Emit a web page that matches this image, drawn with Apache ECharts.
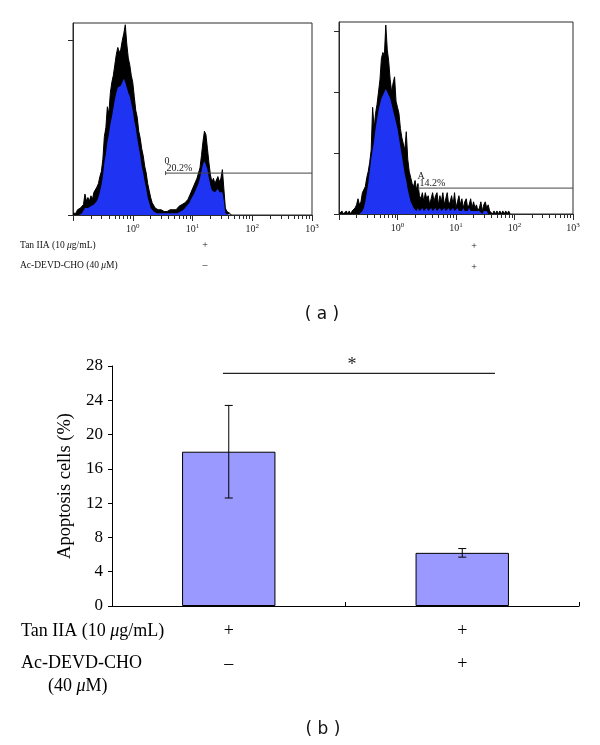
<!DOCTYPE html>
<html><head><meta charset="utf-8">
<script src="https://cdn.jsdelivr.net/npm/echarts@6/dist/echarts.min.js"></script>
<style>html,body{margin:0;padding:0;background:#fff}#c{width:600px;height:745px}</style>
</head><body><div id="c"></div>
<script>
// ---------- Panel (a): flow-cytometry histograms (x in log10 decades, 0.025-decade bins) ----------
const binStart = -1.0;
const binStep = 0.025;
const leftBlack = [1,2,1,3,2,4,3,6,12,8,
 10,8,11,9,13,12,16,18,22,25,
 32,45,50,62,58,70,76,80,86,92,
 96,93,95,100,104,109,98,90,86,80,
 76,68,60,56,48,44,38,34,28,24,
 18,14,10,7,6,4,4,3,4,3,
 3,2,3,2,2,3,2,3,4,3,
 4,5,4,6,5,7,8,9,11,13,
 14,17,19,21,24,27,34,42,48,46,
 38,30,23,19,21,18,20,22,19,21,
 26,15,4,2,1,1,0];
const leftBlue = [0,0,0,1,0,1,1,
 2,4,3,4,3,5,4,6,6,8,
 10,13,17,22,30,35,42,46,52,56,
 61,66,70,73,72,74,76,78,76,73,
 70,68,64,60,54,50,44,39,34,28,
 24,19,15,10,7,4,3,2,1,1,
 1,1,1,1,1,1,1,1,1,1,
 1,1,1,1,2,2,3,3,4,5,
 6,7,9,10,12,14,16,18,21,25,
 29,31,30,26,21,17,14,15,13,14,
 15,13,14,13,8,1,0,0,0,0];
const rightBlack = [0,0,1,0,0,1,0,1,0,1,
 1,2,3,5,3,4,7,8,9,12,
 14,17,21,35,28,33,36,40,44,51,
 53,52,62,54,50,44,40,43,45,37,
 35,33,28,25,23,21,27,18,14,12,
 10,9,11,8,10,6,5,7,4,7,
 5,6,3,5,7,4,6,7,3,6,
 4,7,3,5,7,3,4,6,3,7,
 2,4,6,3,5,2,4,5,2,3,
 5,2,4,2,3,1,2,4,1,3,
 4,2,3,1,1,0,1,0,1,0,
 1,0,1,0,1,0,1,0];
const rightBlue = [0,0,0,0,0,0,0,0,0,0,0,0,0,0,0,0,
 1,2,4,7,10,14,18,21,24,28,
 31,34,36,38,39,40,41,40,39,38,
 36,34,32,30,28,25,22,19,16,13,
 11,8,6,4,3,2,2,1,2,1,
 1,2,1,1,2,1,1,2,1,1,
 2,1,1,2,1,1,2,1,1,2,
 1,1,2,1,1,2,1,1,1,2,
 1,1,1,2,1,1,1,1,1,1,
 1,1,0,1,1,1,0,0,0,0,
 0,0,0,0,0,0,0,0,0,0,0,0];
const decadeTicks = [-1, 0, 1, 2, 3];
const decadeLabels = [0, 1, 2, 3];
const minorMultipliers = [2, 3, 4, 5, 6, 7, 8, 9];
const leftYMax = 110, leftYTicks = [0, 100];
const rightYMax = 63, rightYTicks = [0, 20, 40, 60];
// gate: [start decade, level, marker name, percentage]
const leftGate = [0.55, 24, '0', '20.2%'];
const rightGate = [0.36, 8.5, 'A', '14.2%'];
const histTreat = [['+', '–'], ['+', '+']];

// ---------- Panel (b): bar chart ----------
const groups = ['Tan IIA', 'Tan IIA + Ac-DEVD-CHO'];
const tanRow = ['+', '+'];
const devdRow = ['–', '+'];
const meanValues = [18.0, 6.2];
const sdValues = [5.4, 0.5];
const barYTicks = {min: 0, max: 28, interval: 4};
const sigBracket = [0, 1, 27.15];

const SERIF = '"Liberation Serif", "Times New Roman", serif';
const INK = '#000';
const FRAME = '#2a2a2a';

function pairs(arr) { return arr.map((v, i) => [binStart + i * binStep, v]); }
const minorTickValues = [];
[-1, 0, 1, 2].forEach(d => minorMultipliers.forEach(m => minorTickValues.push(d + Math.log10(m))));

function histX(grid) {
  return [{
    type: 'value', gridIndex: grid, min: -1, max: 3, position: 'bottom',
    axisLine: {onZero: false, lineStyle: {color: FRAME, width: 1}},
    axisTick: {show: true, customValues: decadeTicks, length: 6, lineStyle: {color: FRAME}},
    axisLabel: {
      customValues: decadeLabels, margin: 8,
      formatter: v => '{b|10}{s|' + Math.round(v) + '}',
      rich: {
        b: {fontFamily: SERIF, fontSize: 10, color: '#222'},
        s: {fontFamily: SERIF, fontSize: 7, color: '#222', padding: [0, 0, 6, 0]}
      }
    },
    splitLine: {show: false}
  }, {
    type: 'value', gridIndex: grid, min: -1, max: 3, position: 'bottom',
    axisLine: {show: false, onZero: false},
    axisTick: {show: true, customValues: minorTickValues, length: 4, lineStyle: {color: FRAME}},
    axisLabel: {show: false}, splitLine: {show: false}
  }];
}
function histY(grid, max, ticks) {
  return {
    type: 'value', gridIndex: grid, min: 0, max: max,
    axisLine: {show: true, onZero: false, lineStyle: {color: FRAME}},
    axisTick: {show: true, customValues: ticks, length: 5, lineStyle: {color: FRAME}},
    axisLabel: {show: false}, splitLine: {show: false}
  };
}
function histSeries(xi, yi, black, blue, gate) {
  return [{
    type: 'line', xAxisIndex: xi, yAxisIndex: yi, data: pairs(black), symbol: 'none',
    lineStyle: {color: '#000', width: 1}, areaStyle: {color: '#000', opacity: 1}, z: 2, silent: true, animation: false
  }, {
    type: 'line', xAxisIndex: xi, yAxisIndex: yi, data: pairs(blue), symbol: 'none',
    lineStyle: {width: 0}, areaStyle: {color: '#1f33f2', opacity: 1}, z: 3, silent: true, animation: false
  }, {
    type: 'custom', xAxisIndex: xi, yAxisIndex: yi, data: [[gate[0], gate[1]]], z: 5, animation: false,
    renderItem: function (params, api) {
      const p = api.coord([api.value(0), api.value(1)]);
      const pe = api.coord([3, api.value(1)]);
      return {type: 'group', children: [
        {type: 'line', shape: {x1: p[0], y1: p[1], x2: pe[0], y2: p[1]}, style: {stroke: '#444', lineWidth: 1}},
        {type: 'line', shape: {x1: p[0], y1: p[1] - 2, x2: p[0], y2: p[1] + 2}, style: {stroke: '#444', lineWidth: 1}},
        {type: 'text', x: p[0] - 1, y: p[1] - 12, style: {text: gate[2], fontFamily: SERIF, fontSize: 10, fill: '#222', align: 'left', verticalAlign: 'middle'}},
        {type: 'text', x: p[0] + 1, y: p[1] - 5, style: {text: gate[3], fontFamily: SERIF, fontSize: 10, fill: '#222', align: 'left', verticalAlign: 'middle'}}
      ]};
    }
  }];
}

const richSmall = {n: {fontFamily: SERIF, fontSize: 9.5, fill: '#111'}, i: {fontFamily: SERIF, fontSize: 9.5, fontStyle: 'italic', fill: '#111'}};
const richBig = {n: {fontFamily: SERIF, fontSize: 18, fill: INK}, i: {fontFamily: SERIF, fontSize: 18, fontStyle: 'italic', fill: INK}};
function label(x, y, text, rich, align) {
  return {type: 'text', x: x, y: y, style: {text: text, rich: rich, fontFamily: SERIF, fontSize: rich.n.fontSize, fill: INK, align: align || 'left', verticalAlign: 'middle'}};
}

const chart = echarts.init(document.getElementById('c'), null, {renderer: 'canvas'});
chart.setOption({
  animation: false,
  backgroundColor: '#fff',
  grid: [
    {left: 73, top: 23, width: 239, height: 192, show: true, borderColor: FRAME, borderWidth: 1, backgroundColor: 'transparent', outerBoundsMode: 'none'},
    {left: 339, top: 22, width: 234, height: 192, show: true, borderColor: FRAME, borderWidth: 1, backgroundColor: 'transparent', outerBoundsMode: 'none'},
    {left: 112, top: 366, width: 467, height: 240, show: false, outerBoundsMode: 'none'}
  ],
  xAxis: [
    ...histX(0), ...histX(1),
    {
      type: 'category', gridIndex: 2, data: groups,
      axisLine: {lineStyle: {color: INK, width: 1}},
      axisTick: {show: true, inside: true, length: 4, lineStyle: {color: INK}},
      axisLabel: {
        margin: 8.5, lineHeight: 33, fontFamily: SERIF, fontSize: 18, color: INK,
        formatter: (v, i) => tanRow[i] + '\n' + devdRow[i]
      },
      splitLine: {show: false}
    }
  ],
  yAxis: [
    histY(0, leftYMax, leftYTicks),
    histY(1, rightYMax, rightYTicks),
    {
      type: 'value', gridIndex: 2, min: barYTicks.min, max: barYTicks.max, interval: barYTicks.interval,
      name: 'Apoptosis cells (%)', nameLocation: 'middle', nameGap: 34,
      nameTextStyle: {fontFamily: SERIF, fontSize: 18.5, color: INK},
      axisLine: {show: true, lineStyle: {color: INK, width: 1}},
      axisTick: {show: true, length: 4, lineStyle: {color: INK}},
      axisLabel: {fontFamily: SERIF, fontSize: 17, color: INK, margin: 9},
      splitLine: {show: false}
    }
  ],
  series: [
    ...histSeries(0, 0, leftBlack, leftBlue, leftGate),
    ...histSeries(2, 1, rightBlack, rightBlue, rightGate),
    {
      type: 'bar', xAxisIndex: 4, yAxisIndex: 2, data: meanValues, barWidth: '40%',
      itemStyle: {color: '#9999ff', borderColor: '#000', borderWidth: 1}, z: 2
    },
    {
      type: 'custom', xAxisIndex: 4, yAxisIndex: 2, z: 5,
      data: meanValues.map((m, i) => [i, m - sdValues[i], m + sdValues[i]]),
      encode: {x: 0, y: [1, 2]},
      renderItem: function (params, api) {
        const x = api.value(0);
        const lo = api.coord([x, api.value(1)]);
        const hi = api.coord([x, api.value(2)]);
        const c = 4;
        const st = {stroke: '#000', lineWidth: 1};
        return {type: 'group', children: [
          {type: 'line', shape: {x1: lo[0], y1: lo[1], x2: hi[0], y2: hi[1]}, style: st},
          {type: 'line', shape: {x1: lo[0] - c, y1: lo[1], x2: lo[0] + c, y2: lo[1]}, style: st},
          {type: 'line', shape: {x1: hi[0] - c, y1: hi[1], x2: hi[0] + c, y2: hi[1]}, style: st}
        ]};
      }
    },
    {
      type: 'custom', xAxisIndex: 4, yAxisIndex: 2, z: 5,
      data: [sigBracket],
      renderItem: function (params, api) {
        const a = api.coord([sigBracket[0], sigBracket[2]]);
        const b = api.coord([sigBracket[1], sigBracket[2]]);
        const band = api.size([1, 0])[0];
        return {type: 'group', children: [
          {type: 'line', shape: {x1: a[0] - 0.025 * band, y1: a[1], x2: b[0] + 0.14 * band, y2: a[1]}, style: {stroke: '#222', lineWidth: 1.2}},
          {type: 'text', x: a[0] + 0.528 * band, y: a[1] - 17, style: {text: '*', fontFamily: SERIF, fontSize: 18, fill: '#222', align: 'center', verticalAlign: 'top'}}
        ]};
      }
    }
  ],
  graphic: [
    label(20, 245, '{n|Tan IIA (10 }{i|μ}{n|g/mL)}', richSmall),
    label(20, 265, '{n|Ac-DEVD-CHO (40 }{i|μ}{n|M)}', richSmall),
    {type: 'text', x: 205, y: 245, style: {text: histTreat[0][0], fontFamily: SERIF, fontSize: 10, fill: '#111', align: 'center', verticalAlign: 'middle'}},
    {type: 'text', x: 205, y: 265, style: {text: histTreat[0][1], fontFamily: SERIF, fontSize: 10, fill: '#111', align: 'center', verticalAlign: 'middle'}},
    {type: 'text', x: 474, y: 246, style: {text: histTreat[1][0], fontFamily: SERIF, fontSize: 10, fill: '#111', align: 'center', verticalAlign: 'middle'}},
    {type: 'text', x: 474, y: 267, style: {text: histTreat[1][1], fontFamily: SERIF, fontSize: 10, fill: '#111', align: 'center', verticalAlign: 'middle'}},
    {type: 'text', x: 322, y: 315, style: {text: '( a )', fontFamily: '"DejaVu Sans", sans-serif', fontSize: 17, fill: '#111', align: 'center', verticalAlign: 'middle'}},
    label(21, 631, '{n|Tan IIA (10 }{i|μ}{n|g/mL)}', richBig),
    label(21, 663, '{n|Ac-DEVD-CHO}', richBig),
    label(48, 686, '{n|(40 }{i|μ}{n|M)}', richBig),
    {type: 'text', x: 323, y: 730, style: {text: '( b )', fontFamily: '"DejaVu Sans", sans-serif', fontSize: 17, fill: '#111', align: 'center', verticalAlign: 'middle'}}
  ]
});
</script>
</body></html>
